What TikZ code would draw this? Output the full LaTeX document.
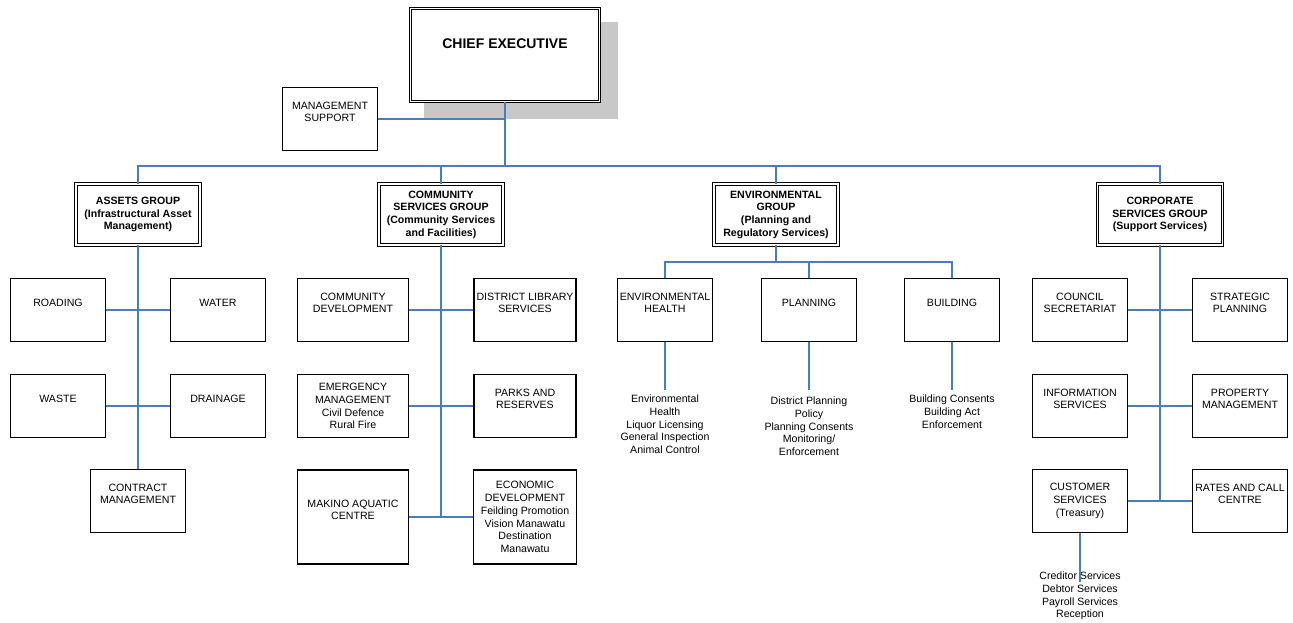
\documentclass[tikz,border=0pt]{standalone}
\usepackage{fontspec}
\setmainfont{Liberation Sans}
\usepackage{tikz}
\definecolor{linkblue}{RGB}{74,126,187}
\definecolor{shadowgrey}{RGB}{200,200,200}
\newcommand{\tail}{\\[-2pt]\strut}

\begin{document}
\begin{tikzpicture}[x=1pt,y=-1pt,
  box/.style={draw,fill=white,line width=1.1pt,minimum width=95pt,minimum height=63pt,
    inner sep=1pt,align=center,font=\fontsize{10.6}{12.7}\selectfont},
  grp/.style={box,double,line width=0.9pt,double distance=1.8pt,minimum width=124pt,
    minimum height=61pt,font=\fontsize{10.6}{12.7}\selectfont\bfseries},
  link/.style={draw=linkblue,line width=1.3pt},
  list/.style={align=center,inner sep=0pt,anchor=north,font=\fontsize{10.6}{12.7}\selectfont}]
  \fill[white] (0,0) rectangle (1293,623);
  \useasboundingbox (0,0) rectangle (1293,623);

  \fill[shadowgrey] (424,22) rectangle (618,119);
  \node[grp,minimum width=189pt,minimum height=93pt,font=\fontsize{14}{17}\selectfont\bfseries]
    (ceo) at (505,55) {CHIEF EXECUTIVE\\\strut};
  \node[box] (mgmt) at (330,119) {MANAGEMENT\\SUPPORT\tail};

  \node[grp] (assets) at (138,214.5) {ASSETS GROUP\\(Infrastructural Asset\\Management)};
  \node[grp] (comm) at (441,214.5) {COMMUNITY\\SERVICES GROUP\\(Community Services\\and Facilities)};
  \node[grp] (env) at (776,214.5) {ENVIRONMENTAL\\GROUP\\(Planning and\\Regulatory Services)};
  \node[grp,minimum width=125pt] (corp) at (1160,214.5) {CORPORATE\\SERVICES GROUP\\(Support Services)};

  \node[box] (roading) at (58,310) {ROADING\tail};
  \node[box] (water) at (218,310) {WATER\tail};
  \node[box] (waste) at (58,406) {WASTE\tail};
  \node[box] (drainage) at (218,406) {DRAINAGE\tail};
  \node[box] (contract) at (138,501) {CONTRACT\\MANAGEMENT\tail};

  \node[box,minimum width=111pt] (comdev) at (353,310) {COMMUNITY\\DEVELOPMENT\tail};
  \node[box,minimum width=102pt] (library) at (525,310) {DISTRICT LIBRARY\\SERVICES\tail};
  \node[box,minimum width=111pt] (emergency) at (353,406) {EMERGENCY\\MANAGEMENT\\Civil Defence\\Rural Fire};
  \node[box,minimum width=102pt] (parks) at (525,406) {PARKS AND\\RESERVES\tail};
  \node[box,minimum width=111pt,minimum height=94pt] (makino) at (353,517) {MAKINO AQUATIC\\CENTRE\tail};
  \node[box,minimum width=103pt,minimum height=94pt] (econ) at (525,517)
    {ECONOMIC\\DEVELOPMENT\\Feilding Promotion\\Vision Manawatu\\Destination\\Manawatu};

  \node[box] (envhealth) at (665,310) {ENVIRONMENTAL\\HEALTH\tail};
  \node[box] (planning) at (809,310) {PLANNING\tail};
  \node[box] (building) at (952,310) {BUILDING\tail};
  \node[list] (ehlist) at (665,395)
    {Environmental\\Health\\Liquor Licensing\\General Inspection\\Animal Control};
  \node[list] (planlist) at (809,397)
    {District Planning\\Policy\\Planning Consents\\Monitoring/\\Enforcement};
  \node[list] (buildlist) at (952,395) {Building Consents\\Building Act\\Enforcement};

  \node[box] (council) at (1080,310) {COUNCIL\\SECRETARIAT\tail};
  \node[box] (strategic) at (1240,310) {STRATEGIC\\PLANNING\tail};
  \node[box] (info) at (1080,406) {INFORMATION\\SERVICES\tail};
  \node[box] (property) at (1240,406) {PROPERTY\\MANAGEMENT\tail};
  \node[box] (customer) at (1080,501) {CUSTOMER\\SERVICES\\(Treasury)};
  \node[box] (rates) at (1240,501) {RATES AND CALL\\CENTRE\tail};
  \node[list] (cslist) at (1080,572)
    {Creditor Services\\Debtor Services\\Payroll Services\\Reception};

  \coordinate (bus) at (505,166);
  \draw[link] (ceo.south) -- (bus);
  \draw[link] (mgmt.east) -- (mgmt.east -| ceo.south);
  \draw[link] (assets.north) |- (bus) -| (corp.north);
  \draw[link] (comm.north) -- (comm.north |- bus);
  \draw[link] (env.north) -- (env.north |- bus);

  \draw[link] (assets.south) -- (contract.north);
  \draw[link] (roading.east) -- (water.west);
  \draw[link] (waste.east) -- (drainage.west);

  \draw[link] (comm.south) -- (comm.south |- makino.east);
  \draw[link] (comdev.east) -- (library.west);
  \draw[link] (emergency.east) -- (parks.west);
  \draw[link] (makino.east) -- (econ.west);

  \coordinate (envbus) at (776,262);
  \draw[link] (env.south) -- (envbus);
  \draw[link] (envhealth.north) |- (envbus) -| (building.north);
  \draw[link] (planning.north) -- (planning.north |- envbus);
  \draw[link] (envhealth.south) -- ([yshift=5pt]ehlist.north);
  \draw[link] (planning.south) -- ([yshift=7pt]planlist.north);
  \draw[link] (building.south) -- ([yshift=5pt]buildlist.north);

  \draw[link] (corp.south) -- (corp.south |- rates.west);
  \draw[link] (council.east) -- (strategic.west);
  \draw[link] (info.east) -- (property.west);
  \draw[link] (customer.east) -- (rates.west);
  \draw[link] (customer.south) -- ([yshift=-10pt]cslist.north);
\end{tikzpicture}
\end{document}
